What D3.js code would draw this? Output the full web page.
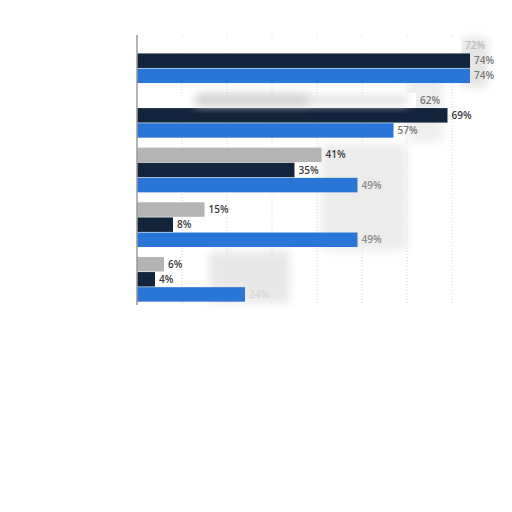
<!DOCTYPE html>
<html>
<head>
<meta charset="utf-8">
<script src="https://cdn.jsdelivr.net/npm/d3@7"></script>
<style>
  body { margin: 0; background: #fff; }
</style>
</head>
<body>
<div id="chart"></div>
<script>
// data
const groups = ["g1", "g2", "g3", "g4", "g5"];
const seriesNames = ["grey", "navy", "blue"];
const greyValues = [72, 62, 41, 15, 6];
const navyValues = [74, 69, 35, 8, 4];
const blueValues = [74, 57, 49, 49, 24];
const gridTicks = [10, 20, 30, 40, 50, 60, 70];

const colors = {grey: "#b4b4b4", navy: "#13243d", blue: "#2a76d6"};

const rows = [];
groups.forEach((g, i) => {
    rows.push({group: g, series: "grey", value: greyValues[i], gi: i});
    rows.push({group: g, series: "navy", value: navyValues[i], gi: i});
    rows.push({group: g, series: "blue", value: blueValues[i], gi: i});
});

const width = 512, height = 512;
const svg = d3.select('#chart')
    .append('svg')
    .attr('width', width)
    .attr('height', height)
    .style('background-color', '#fff');

// blur filter for the washed-out patches of the picture
svg.append('defs')
    .append('filter')
        .attr('id', 'smudge')
        .attr('x', '-50%').attr('y', '-50%')
        .attr('width', '200%').attr('height', '200%')
    .append('feGaussianBlur')
        .attr('stdDeviation', 5);

// scales
const x = d3.scaleLinear()
    .domain([0, 100])
    .range([137, 587]);
const y = d3.scaleBand()
    .domain(groups)
    .range([35, 305])
    .paddingInner(0.16)
    .paddingOuter(0.05);
const y1 = d3.scaleBand()
    .domain(seriesNames)
    .range([0, y.bandwidth()])
    .padding(0.04);
const gy = v => y(groups[Math.floor(v)] || groups[groups.length - 1]) + (v % 1) * y.step();

// dotted grid lines
svg.append('g')
    .selectAll('line')
    .data(gridTicks)
    .enter()
    .append('line')
        .attr('x1', d => x(d))
        .attr('x2', d => x(d))
        .attr('y1', 35)
        .attr('y2', 305)
        .attr('stroke', '#d2d2d2')
        .attr('stroke-width', 1)
        .style('stroke-dasharray', '1,2');

// soft grey patches beside the bars (in value / group space)
const patches = [
    {x0: 41, x1: 60, g0: 1.95, g1: 3.9, fill: '#ececec'},
    {x0: 16, x1: 34, g0: 3.9, g1: 4.85, fill: '#e8e8e8'},
    {x0: 60, x1: 68, g0: 0.6, g1: 1.9, fill: '#eeeeee'},
    {x0: 72, x1: 78, g0: 0, g1: 0.9, fill: '#e4e4e4'}
];
const drawPatches = (list) => svg.append('g')
    .attr('filter', 'url(#smudge)')
    .selectAll('rect')
    .data(list)
    .enter()
    .append('rect')
        .attr('x', d => x(d.x0))
        .attr('y', d => gy(d.g0))
        .attr('width', d => x(d.x1) - x(d.x0))
        .attr('height', d => gy(d.g1) - gy(d.g0))
        .attr('fill', d => d.fill);
drawPatches(patches);

// bars (the grey bars of the first two groups are washed out in the picture)
svg.append('g')
    .selectAll('rect')
    .data(rows)
    .enter()
    .append('rect')
        .attr('x', x(0))
        .attr('y', d => y(d.group) + y1(d.series))
        .attr('width', d => x(d.value) - x(0))
        .attr('height', y1.bandwidth())
        .attr('fill', d => (d.series === 'grey' && d.gi < 2) ? '#fff' : colors[d.series]);

// the smear left over the second grey bar
drawPatches([
    {x0: 13, x1: 38, g0: 1.03, g1: 1.25, fill: '#cdcdcd'},
    {x0: 38, x1: 60, g0: 1.05, g1: 1.23, fill: '#e2e2e2'}
]);

// value labels
const labelColor = d => {
    if (d.series === 'grey' && d.gi === 0) return '#bdbdbd';
    if (d.gi === 4 && d.series === 'blue') return '#d8d8d8';
    if (d.series === 'blue' && (d.gi === 2 || d.gi === 3)) return '#8a8a8a';
    if (d.gi === 0 || (d.gi === 1 && d.series !== 'navy')) return '#777';
    return '#3a3a3a';
};
svg.append('g')
    .selectAll('text')
    .data(rows)
    .enter()
    .append('text')
        .attr('x', d => x(d.value) + 4)
        .attr('y', d => y(d.group) + y1(d.series) + y1.bandwidth() / 2)
        .attr('dy', '0.35em')
        .text(d => d.value + '%')
        .attr('font-family', 'Open Sans')
        .attr('font-weight', 600)
        .style('font-size', '10px')
        .attr('fill', labelColor);

// vertical axis line
svg.append('line')
    .attr('x1', x(0))
    .attr('x2', x(0))
    .attr('y1', 35)
    .attr('y2', 305)
    .attr('stroke', '#9a9a9a')
    .attr('stroke-width', 1.5);
</script>
</body>
</html>
